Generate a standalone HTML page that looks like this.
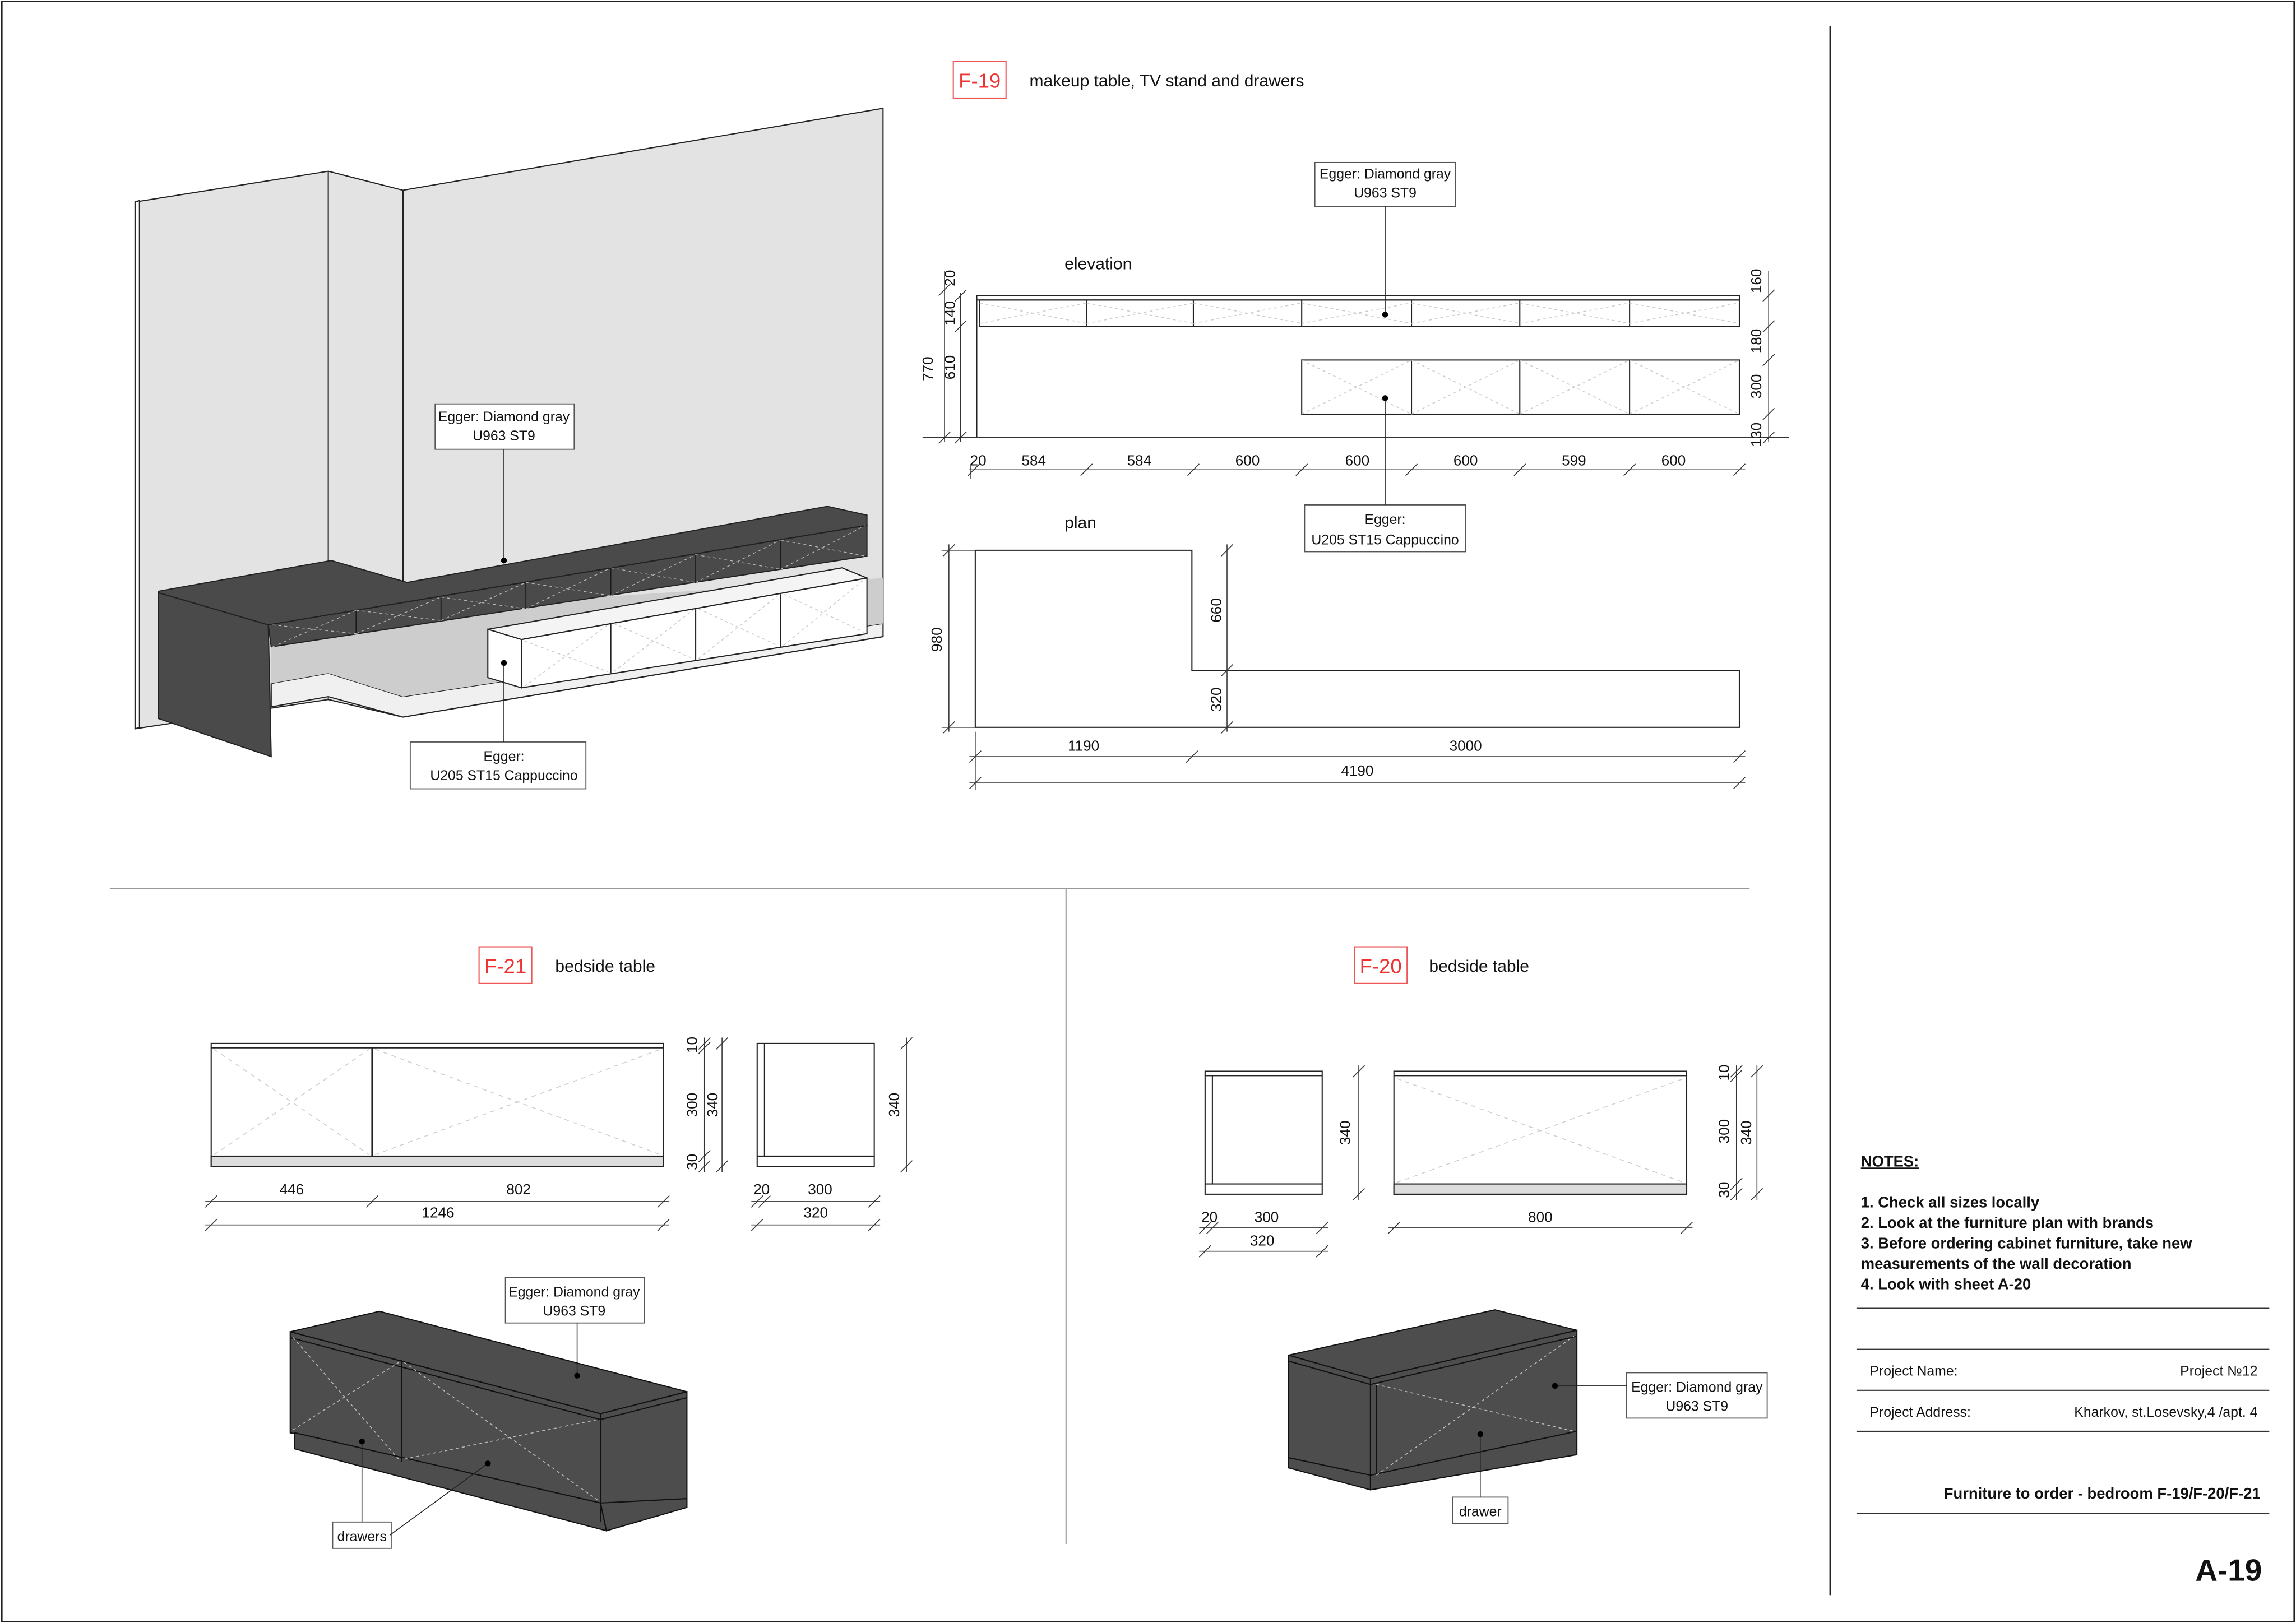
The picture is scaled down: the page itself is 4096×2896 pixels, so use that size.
<!DOCTYPE html>
<html><head><meta charset="utf-8"><style>
html,body{margin:0;padding:0;background:#fff}
svg{display:block}
text{font-family:"Liberation Sans",sans-serif;fill:#111}
</style></head><body>
<svg width="4096" height="2896" viewBox="0 0 1568 1109" xmlns="http://www.w3.org/2000/svg">
<rect x="0" y="0" width="1568" height="1109" fill="#fff"/>
<rect x="1" y="1" width="1566" height="1107" fill="none" stroke="#222" stroke-width="1"/>
<line x1="1250" y1="18" x2="1250" y2="1090" stroke="#222" stroke-width="1"/>
<line x1="75" y1="607" x2="1195" y2="607" stroke="#999" stroke-width="0.8"/>
<line x1="728" y1="607" x2="728" y2="1055" stroke="#999" stroke-width="0.8"/>

<rect x="651" y="42" width="36" height="25" fill="none" stroke="#e55" stroke-width="0.8"/>
<text x="669" y="60" font-size="14" text-anchor="middle" style="fill:#e33">F-19</text>
<text x="703" y="59" font-size="11.5">makeup table, TV stand and drawers</text>

<g stroke="#222" stroke-width="0.8">
<polygon points="92,138 224,117 275,130 603,74 603,435 275,490 224,478 92,498" fill="#e3e3e3"/>
<line x1="224" y1="117" x2="224" y2="478"/>
<line x1="275" y1="130" x2="275" y2="490" stroke-width="1"/>
<polygon points="92,138 95,137 95,497 92,498" fill="#fff"/>
<polygon points="185,467 224,460 275,476 603,426 603,435 275,490 224,476 185,483" fill="#f0f0f0"/>
<polygon points="185,423 603,395 603,426 275,476 224,460 185,467" fill="#cdcdcd" stroke="none"/>
<polygon points="108,404 226,383 278,398 565,346 592,352 592,359 183,427 108,405" fill="#4a4a4a"/>
<polygon points="108,405 183,427 185,517 108,491" fill="#4a4a4a"/>
<polygon points="183,427 592,359 592,380 185,442" fill="#4a4a4a"/>
<polygon points="333,430 575,388 592,395 356,437" fill="#f4f4f4"/>
<polygon points="333,430 356,437 356,470 333,463" fill="#fff"/>
<polygon points="356,437 592,395 592,433 356,470" fill="#fff"/>
<line x1="417" y1="426" x2="417" y2="460"/>
<line x1="475" y1="416" x2="475" y2="451"/>
<line x1="533" y1="406" x2="533" y2="442"/>
</g>
<g stroke="#ccc" stroke-width="0.6" stroke-dasharray="2,2" fill="none">
<line x1="358" y1="438" x2="415" y2="459"/><line x1="358" y1="469" x2="415" y2="427"/>
<line x1="419" y1="426" x2="473" y2="450"/><line x1="419" y1="459" x2="473" y2="417"/>
<line x1="477" y1="416" x2="531" y2="441"/><line x1="477" y1="450" x2="531" y2="407"/>
<line x1="535" y1="406" x2="590" y2="432"/><line x1="535" y1="441" x2="590" y2="396"/>
</g>
<g stroke="#1a1a1a" stroke-width="0.7">
<line x1="243" y1="417" x2="243" y2="433"/><line x1="301" y1="408" x2="301" y2="424"/><line x1="359" y1="398" x2="359" y2="416"/><line x1="417" y1="388" x2="417" y2="407"/><line x1="475" y1="379" x2="475" y2="398"/><line x1="533" y1="369" x2="533" y2="389"/>
</g>
<g stroke="#bbb" stroke-width="0.5" stroke-dasharray="2,2">
<line x1="186" y1="427" x2="243" y2="433"/><line x1="186" y1="442" x2="243" y2="417"/>
<line x1="243" y1="417" x2="301" y2="424"/><line x1="243" y1="433" x2="301" y2="408"/>
<line x1="301" y1="408" x2="359" y2="416"/><line x1="301" y1="424" x2="359" y2="398"/>
<line x1="359" y1="398" x2="417" y2="407"/><line x1="359" y1="416" x2="417" y2="388"/>
<line x1="417" y1="388" x2="475" y2="398"/><line x1="417" y1="407" x2="475" y2="379"/>
<line x1="475" y1="379" x2="533" y2="389"/><line x1="475" y1="398" x2="533" y2="369"/>
<line x1="533" y1="369" x2="591" y2="380"/><line x1="533" y1="389" x2="591" y2="359"/>
</g>
<rect x="297" y="276" width="95" height="31" fill="#fff" stroke="#555" stroke-width="0.7"/>
<text x="344" y="288" font-size="9.5" text-anchor="middle">Egger: Diamond gray</text>
<text x="344" y="301" font-size="9.5" text-anchor="middle">U963 ST9</text>
<line x1="344" y1="307" x2="344" y2="383" stroke="#222" stroke-width="0.6"/><circle cx="344" cy="383" r="2" fill="#000"/>
<rect x="280" y="507" width="120" height="32" fill="#fff" stroke="#555" stroke-width="0.7"/>
<text x="344" y="520" font-size="9.5" text-anchor="middle">Egger:</text>
<text x="344" y="533" font-size="9.5" text-anchor="middle">U205 ST15 Cappuccino</text>
<line x1="344" y1="453" x2="344" y2="507" stroke="#222" stroke-width="0.6"/><circle cx="344" cy="453" r="2" fill="#000"/>

<text x="727" y="184" font-size="11.5">elevation</text>
<g stroke="#222" stroke-width="0.8" fill="none">
<line x1="667" y1="202" x2="667" y2="299"/>
<rect x="667" y="202" width="521" height="3"/>
<rect x="669" y="205" width="519" height="18"/>
<line x1="742" y1="205" x2="742" y2="223"/><line x1="815" y1="205" x2="815" y2="223"/><line x1="889" y1="205" x2="889" y2="223"/><line x1="964" y1="205" x2="964" y2="223"/><line x1="1038" y1="205" x2="1038" y2="223"/><line x1="1113" y1="205" x2="1113" y2="223"/>
<rect x="889" y="246" width="299" height="37"/>
<line x1="964" y1="246" x2="964" y2="283"/><line x1="1038" y1="246" x2="1038" y2="283"/><line x1="1113" y1="246" x2="1113" y2="283"/>
</g>
<g stroke="#ccc" stroke-width="0.6" stroke-dasharray="2,2">
<line x1="669" y1="207" x2="742" y2="221"/><line x1="669" y1="221" x2="742" y2="207"/>
<line x1="742" y1="207" x2="815" y2="221"/><line x1="742" y1="221" x2="815" y2="207"/>
<line x1="815" y1="207" x2="889" y2="221"/><line x1="815" y1="221" x2="889" y2="207"/>
<line x1="889" y1="207" x2="964" y2="221"/><line x1="889" y1="221" x2="964" y2="207"/>
<line x1="964" y1="207" x2="1038" y2="221"/><line x1="964" y1="221" x2="1038" y2="207"/>
<line x1="1038" y1="207" x2="1113" y2="221"/><line x1="1038" y1="221" x2="1113" y2="207"/>
<line x1="1113" y1="207" x2="1188" y2="221"/><line x1="1113" y1="221" x2="1188" y2="207"/>
<line x1="889" y1="246" x2="964" y2="283"/><line x1="889" y1="283" x2="964" y2="246"/>
<line x1="964" y1="246" x2="1038" y2="283"/><line x1="964" y1="283" x2="1038" y2="246"/>
<line x1="1038" y1="246" x2="1113" y2="283"/><line x1="1038" y1="283" x2="1113" y2="246"/>
<line x1="1113" y1="246" x2="1188" y2="283"/><line x1="1113" y1="283" x2="1188" y2="246"/>
</g>
<g stroke="#333" stroke-width="0.6">
<line x1="630" y1="299" x2="1222" y2="299"/>
<line x1="645" y1="185" x2="645" y2="302"/><line x1="656" y1="200" x2="656" y2="302"/>
<line x1="1208" y1="185" x2="1208" y2="302"/>
<line x1="662" y1="321" x2="1192" y2="321"/>
<line x1="663" y1="317" x2="663" y2="327"/>
<line x1="641" y1="202" x2="649" y2="194"/><line x1="641" y1="303" x2="649" y2="295"/><line x1="652" y1="206" x2="660" y2="198"/><line x1="652" y1="227" x2="660" y2="219"/><line x1="652" y1="303" x2="660" y2="295"/>
<line x1="1204" y1="206" x2="1212" y2="198"/><line x1="1204" y1="227" x2="1212" y2="219"/><line x1="1204" y1="250" x2="1212" y2="242"/><line x1="1204" y1="287" x2="1212" y2="279"/><line x1="1204" y1="303" x2="1212" y2="295"/>
<line x1="661" y1="325" x2="669" y2="317"/><line x1="738" y1="325" x2="746" y2="317"/><line x1="811" y1="325" x2="819" y2="317"/><line x1="885" y1="325" x2="893" y2="317"/><line x1="960" y1="325" x2="968" y2="317"/><line x1="1034" y1="325" x2="1042" y2="317"/><line x1="1109" y1="325" x2="1117" y2="317"/><line x1="1184" y1="325" x2="1192" y2="317"/>
</g>
<g font-size="10">
<text x="652" y="190" transform="rotate(-90 652 190)" text-anchor="middle">20</text>
<text x="652" y="214" transform="rotate(-90 652 214)" text-anchor="middle">140</text>
<text x="652" y="251" transform="rotate(-90 652 251)" text-anchor="middle">610</text>
<text x="637" y="252" transform="rotate(-90 637 252)" text-anchor="middle">770</text>
<text x="1203" y="192" transform="rotate(-90 1203 192)" text-anchor="middle">160</text>
<text x="1203" y="233" transform="rotate(-90 1203 233)" text-anchor="middle">180</text>
<text x="1203" y="264" transform="rotate(-90 1203 264)" text-anchor="middle">300</text>
<text x="1203" y="297" transform="rotate(-90 1203 297)" text-anchor="middle">130</text>
<text x="668" y="318" text-anchor="middle">20</text>
<text x="706" y="318" text-anchor="middle">584</text><text x="778" y="318" text-anchor="middle">584</text><text x="852" y="318" text-anchor="middle">600</text><text x="927" y="318" text-anchor="middle">600</text><text x="1001" y="318" text-anchor="middle">600</text><text x="1075" y="318" text-anchor="middle">599</text><text x="1143" y="318" text-anchor="middle">600</text>
</g>
<rect x="898" y="111" width="96" height="30" fill="#fff" stroke="#555" stroke-width="0.7"/>
<text x="946" y="122" font-size="9.5" text-anchor="middle">Egger: Diamond gray</text>
<text x="946" y="135" font-size="9.5" text-anchor="middle">U963 ST9</text>
<line x1="946" y1="141" x2="946" y2="215" stroke="#222" stroke-width="0.6"/><circle cx="946" cy="215" r="2" fill="#000"/>
<rect x="891" y="345" width="110" height="32" fill="#fff" stroke="#555" stroke-width="0.7"/>
<text x="946" y="358" font-size="9.5" text-anchor="middle">Egger:</text>
<text x="946" y="372" font-size="9.5" text-anchor="middle">U205 ST15 Cappuccino</text>
<line x1="946" y1="272" x2="946" y2="345" stroke="#222" stroke-width="0.6"/><circle cx="946" cy="272" r="2" fill="#000"/>

<text x="727" y="361" font-size="11.5">plan</text>
<polygon points="666,376 814,376 814,458 1188,458 1188,497 666,497" fill="#fff" stroke="#222" stroke-width="0.8"/>
<g stroke="#333" stroke-width="0.6">
<line x1="648" y1="372" x2="648" y2="500"/><line x1="643" y1="376" x2="666" y2="376"/><line x1="643" y1="497" x2="666" y2="497"/>
<line x1="644" y1="380" x2="652" y2="372"/><line x1="644" y1="501" x2="652" y2="493"/>
<line x1="838" y1="372" x2="838" y2="500"/>
<line x1="834" y1="380" x2="842" y2="372"/><line x1="834" y1="462" x2="842" y2="454"/><line x1="834" y1="501" x2="842" y2="493"/>
<line x1="662" y1="517" x2="1192" y2="517"/><line x1="662" y1="535" x2="1192" y2="535"/>
<line x1="666" y1="500" x2="666" y2="540"/>
<line x1="662" y1="521" x2="670" y2="513"/><line x1="810" y1="521" x2="818" y2="513"/><line x1="1184" y1="521" x2="1192" y2="513"/>
<line x1="662" y1="539" x2="670" y2="531"/><line x1="1184" y1="539" x2="1192" y2="531"/>
</g>
<g font-size="10">
<text x="643" y="437" transform="rotate(-90 643 437)" text-anchor="middle">980</text>
<text x="834" y="417" transform="rotate(-90 834 417)" text-anchor="middle">660</text>
<text x="834" y="478" transform="rotate(-90 834 478)" text-anchor="middle">320</text>
<text x="740" y="513" text-anchor="middle">1190</text><text x="1001" y="513" text-anchor="middle">3000</text><text x="927" y="530" text-anchor="middle">4190</text>
</g>

<rect x="327" y="647" width="36" height="25" fill="none" stroke="#e55" stroke-width="0.8"/>
<text x="345" y="665" font-size="14" text-anchor="middle" style="fill:#e33">F-21</text>
<text x="379" y="664" font-size="11.5">bedside table</text>
<g stroke="#222" stroke-width="0.8" fill="none">
<rect x="144" y="713" width="309" height="84"/><line x1="144" y1="716" x2="453" y2="716"/>
<line x1="254" y1="716" x2="254" y2="790" stroke-width="1.2"/>
<rect x="144" y="790" width="309" height="7" fill="#ddd"/>
<rect x="517" y="713" width="80" height="84"/><line x1="522" y1="713" x2="522" y2="790"/><line x1="517" y1="790" x2="597" y2="790"/>
</g>
<g stroke="#ccc" stroke-width="0.6" stroke-dasharray="3,3">
<line x1="146" y1="717" x2="252" y2="789"/><line x1="146" y1="789" x2="252" y2="717"/>
<line x1="256" y1="717" x2="451" y2="789"/><line x1="256" y1="789" x2="451" y2="717"/>
</g>
<g stroke="#333" stroke-width="0.6">
<line x1="481" y1="709" x2="481" y2="801"/><line x1="493" y1="709" x2="493" y2="801"/><line x1="619" y1="709" x2="619" y2="801"/>
<line x1="477" y1="717" x2="485" y2="709"/><line x1="477" y1="720" x2="485" y2="712"/><line x1="477" y1="794" x2="485" y2="786"/><line x1="477" y1="801" x2="485" y2="793"/>
<line x1="489" y1="717" x2="497" y2="709"/><line x1="489" y1="801" x2="497" y2="793"/>
<line x1="615" y1="717" x2="623" y2="709"/><line x1="615" y1="801" x2="623" y2="793"/>
<line x1="140" y1="821" x2="457" y2="821"/><line x1="140" y1="837" x2="457" y2="837"/>
<line x1="140" y1="825" x2="148" y2="817"/><line x1="250" y1="825" x2="258" y2="817"/><line x1="449" y1="825" x2="457" y2="817"/>
<line x1="140" y1="841" x2="148" y2="833"/><line x1="449" y1="841" x2="457" y2="833"/>
<line x1="513" y1="821" x2="601" y2="821"/><line x1="513" y1="837" x2="601" y2="837"/>
<line x1="513" y1="825" x2="521" y2="817"/><line x1="518" y1="825" x2="526" y2="817"/><line x1="593" y1="825" x2="601" y2="817"/>
<line x1="513" y1="841" x2="521" y2="833"/><line x1="593" y1="841" x2="601" y2="833"/>
</g>
<g font-size="10">
<text x="476" y="714" transform="rotate(-90 476 714)" text-anchor="middle">10</text>
<text x="476" y="755" transform="rotate(-90 476 755)" text-anchor="middle">300</text>
<text x="476" y="794" transform="rotate(-90 476 794)" text-anchor="middle">30</text>
<text x="490" y="755" transform="rotate(-90 490 755)" text-anchor="middle">340</text>
<text x="614" y="755" transform="rotate(-90 614 755)" text-anchor="middle">340</text>
<text x="199" y="816" text-anchor="middle">446</text><text x="354" y="816" text-anchor="middle">802</text><text x="299" y="832" text-anchor="middle">1246</text>
<text x="520" y="816" text-anchor="middle">20</text><text x="560" y="816" text-anchor="middle">300</text><text x="557" y="832" text-anchor="middle">320</text>
</g>
<g stroke="#111" stroke-width="0.8" fill="#4d4d4d">
<polygon points="198,910 259,896 469,951 410,966"/>
<polygon points="198,910 410,966 410,1027 198,979"/>
<polygon points="201,979 410,1027 414,1046 201,990"/>
<polygon points="410,966 469,951 469,1030 414,1046 410,1027"/>
<line x1="198" y1="914" x2="410" y2="970"/><line x1="410" y1="970" x2="469" y2="955"/>
<line x1="274" y1="929" x2="274" y2="999"/><line x1="410" y1="970" x2="410" y2="1040"/><line x1="410" y1="1027" x2="469" y2="1024"/>
</g>
<g stroke="#bbb" stroke-width="0.6" stroke-dasharray="2,2">
<line x1="200" y1="914" x2="272" y2="997"/><line x1="200" y1="977" x2="272" y2="931"/>
<line x1="276" y1="931" x2="408" y2="1025"/><line x1="276" y1="997" x2="408" y2="970"/>
</g>
<rect x="345" y="873" width="95" height="31" fill="#fff" stroke="#555" stroke-width="0.7"/>
<text x="392" y="886" font-size="9.5" text-anchor="middle">Egger: Diamond gray</text>
<text x="392" y="899" font-size="9.5" text-anchor="middle">U963 ST9</text>
<line x1="394" y1="904" x2="394" y2="940" stroke="#222" stroke-width="0.6"/><circle cx="394" cy="940" r="2" fill="#000"/>
<rect x="227" y="1040" width="40" height="18" fill="#fff" stroke="#555" stroke-width="0.7"/>
<text x="247" y="1053" font-size="9.5" text-anchor="middle">drawers</text>
<line x1="247" y1="985" x2="247" y2="1040" stroke="#222" stroke-width="0.6"/><circle cx="247" cy="985" r="2" fill="#000"/>
<line x1="333" y1="1000" x2="266" y2="1049" stroke="#222" stroke-width="0.6"/><circle cx="333" cy="1000" r="2" fill="#000"/>

<rect x="925" y="647" width="36" height="25" fill="none" stroke="#e55" stroke-width="0.8"/>
<text x="943" y="665" font-size="14" text-anchor="middle" style="fill:#e33">F-20</text>
<text x="976" y="664" font-size="11.5">bedside table</text>
<g stroke="#222" stroke-width="0.8" fill="none">
<rect x="823" y="732" width="80" height="84"/><line x1="828" y1="735" x2="828" y2="809"/><line x1="823" y1="735" x2="903" y2="735"/><line x1="823" y1="809" x2="903" y2="809"/>
<rect x="952" y="732" width="200" height="84"/><line x1="952" y1="735" x2="1152" y2="735"/>
<rect x="952" y="809" width="200" height="7" fill="#ddd"/>
</g>
<g stroke="#ccc" stroke-width="0.6" stroke-dasharray="3,3">
<line x1="954" y1="737" x2="1150" y2="808"/><line x1="954" y1="808" x2="1150" y2="737"/>
</g>
<g stroke="#333" stroke-width="0.6">
<line x1="928" y1="728" x2="928" y2="820"/>
<line x1="924" y1="736" x2="932" y2="728"/><line x1="924" y1="820" x2="932" y2="812"/>
<line x1="1186" y1="728" x2="1186" y2="820"/><line x1="1200" y1="728" x2="1200" y2="820"/>
<line x1="1182" y1="736" x2="1190" y2="728"/><line x1="1182" y1="739" x2="1190" y2="731"/><line x1="1182" y1="813" x2="1190" y2="805"/><line x1="1182" y1="820" x2="1190" y2="812"/>
<line x1="1196" y1="736" x2="1204" y2="728"/><line x1="1196" y1="820" x2="1204" y2="812"/>
<line x1="819" y1="839" x2="907" y2="839"/><line x1="819" y1="855" x2="907" y2="855"/>
<line x1="819" y1="843" x2="827" y2="835"/><line x1="824" y1="843" x2="832" y2="835"/><line x1="899" y1="843" x2="907" y2="835"/>
<line x1="819" y1="859" x2="827" y2="851"/><line x1="899" y1="859" x2="907" y2="851"/>
<line x1="948" y1="839" x2="1156" y2="839"/>
<line x1="948" y1="843" x2="956" y2="835"/><line x1="1148" y1="843" x2="1156" y2="835"/>
</g>
<g font-size="10">
<text x="922" y="774" transform="rotate(-90 922 774)" text-anchor="middle">340</text>
<text x="1181" y="733" transform="rotate(-90 1181 733)" text-anchor="middle">10</text>
<text x="1181" y="773" transform="rotate(-90 1181 773)" text-anchor="middle">300</text>
<text x="1181" y="813" transform="rotate(-90 1181 813)" text-anchor="middle">30</text>
<text x="1196" y="774" transform="rotate(-90 1196 774)" text-anchor="middle">340</text>
<text x="826" y="835" text-anchor="middle">20</text><text x="865" y="835" text-anchor="middle">300</text><text x="862" y="851" text-anchor="middle">320</text>
<text x="1052" y="835" text-anchor="middle">800</text>
</g>
<g stroke="#111" stroke-width="0.8" fill="#4d4d4d">
<polygon points="880,926 1021,895 1077,909 936,942"/>
<polygon points="880,926 936,942 936,1018 880,1003"/>
<polygon points="936,942 1077,909 1077,994 936,1018"/>
<line x1="880" y1="930" x2="936" y2="946"/><line x1="936" y1="946" x2="1077" y2="913"/>
<line x1="880" y1="996" x2="936" y2="1008"/><line x1="936" y1="1008" x2="1077" y2="978"/>
<line x1="940" y1="946" x2="940" y2="1008"/>
</g>
<g stroke="#bbb" stroke-width="0.6" stroke-dasharray="2,2">
<line x1="940" y1="946" x2="1075" y2="978"/><line x1="940" y1="1008" x2="1075" y2="913"/>
</g>
<rect x="1111" y="938" width="96" height="31" fill="#fff" stroke="#555" stroke-width="0.7"/>
<text x="1159" y="951" font-size="9.5" text-anchor="middle">Egger: Diamond gray</text>
<text x="1159" y="964" font-size="9.5" text-anchor="middle">U963 ST9</text>
<line x1="1062" y1="947" x2="1111" y2="947" stroke="#222" stroke-width="0.6"/><circle cx="1062" cy="947" r="2" fill="#000"/>
<rect x="992" y="1023" width="38" height="18" fill="#fff" stroke="#555" stroke-width="0.7"/>
<text x="1011" y="1036" font-size="9.5" text-anchor="middle">drawer</text>
<line x1="1011" y1="980" x2="1011" y2="1023" stroke="#222" stroke-width="0.6"/><circle cx="1011" cy="980" r="2" fill="#000"/>

<text x="1271" y="797" font-size="10.5" font-weight="bold" text-decoration="underline">NOTES:</text>
<g font-size="10.5" font-weight="bold">
<text x="1271" y="825">1. Check all sizes locally</text>
<text x="1271" y="839">2. Look at the furniture plan with brands</text>
<text x="1271" y="853">3. Before ordering cabinet furniture, take new</text>
<text x="1271" y="867">measurements of the wall decoration</text>
<text x="1271" y="881">4. Look with sheet A-20</text>
</g>
<g stroke="#333" stroke-width="0.8">
<line x1="1268" y1="894" x2="1550" y2="894"/>
<line x1="1268" y1="922" x2="1550" y2="922"/>
<line x1="1268" y1="950" x2="1550" y2="950"/>
<line x1="1268" y1="978" x2="1550" y2="978"/>
<line x1="1268" y1="1034" x2="1550" y2="1034"/>
</g>
<text x="1277" y="940" font-size="9.5">Project Name:</text>
<text x="1542" y="940" font-size="9.5" text-anchor="end">Project №12</text>
<text x="1277" y="968" font-size="9.5">Project Address:</text>
<text x="1542" y="968" font-size="9.5" text-anchor="end">Kharkov, st.Losevsky,4 /apt. 4</text>
<text x="1544" y="1024" font-size="10.5" font-weight="bold" text-anchor="end">Furniture to order - bedroom  F-19/F-20/F-21</text>
<text x="1545" y="1080" font-size="21" font-weight="bold" text-anchor="end">A-19</text>
</svg>
</body></html>
